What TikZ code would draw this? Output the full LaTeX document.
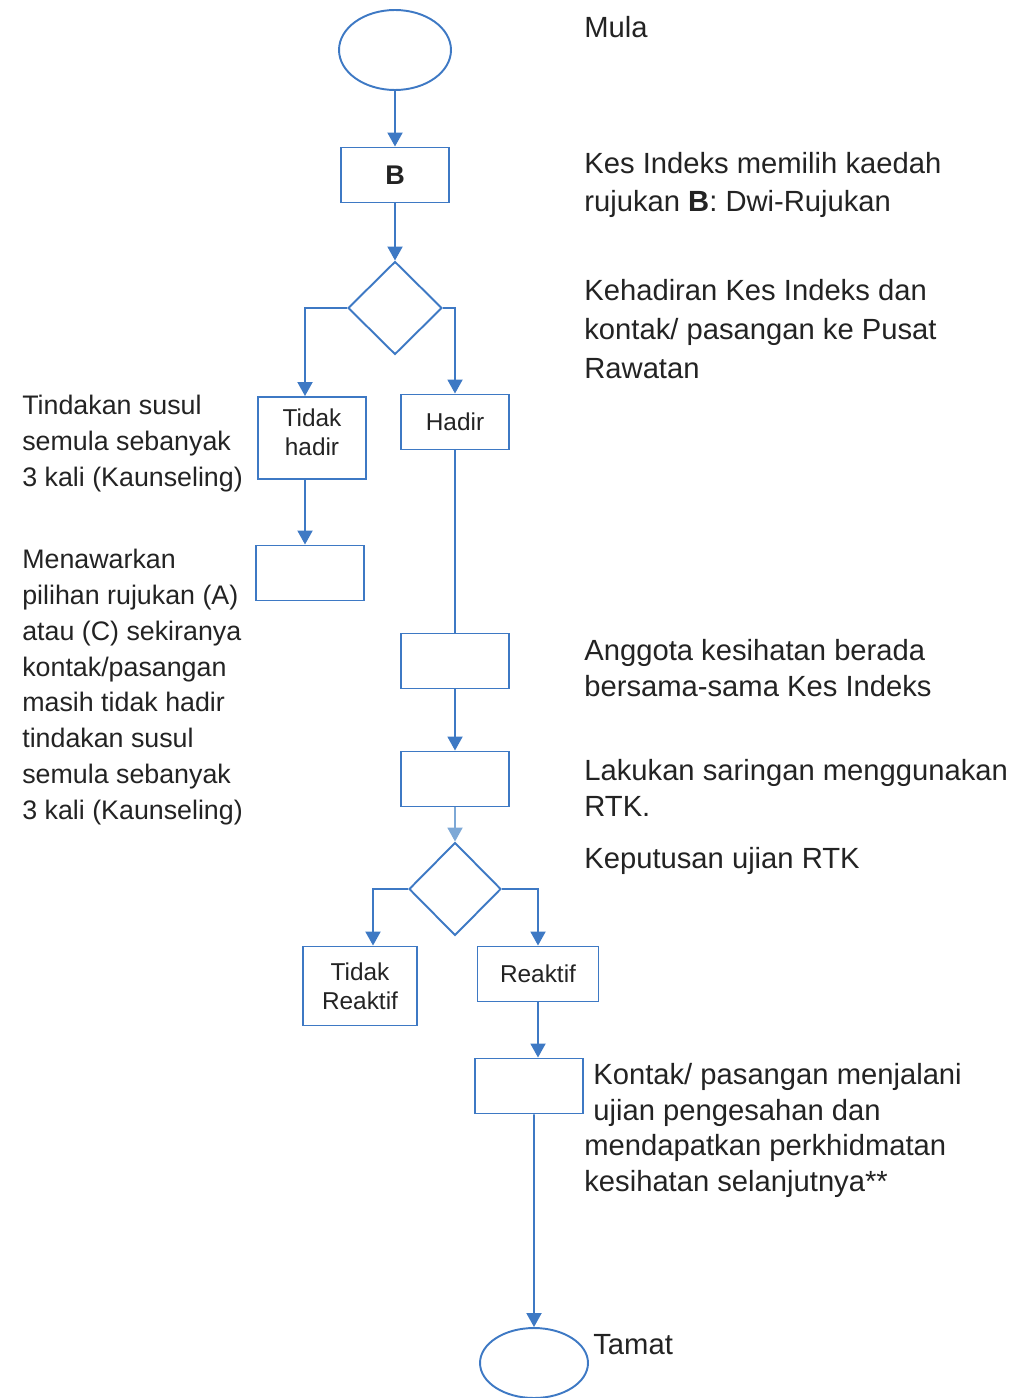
\documentclass[tikz,border=0pt]{standalone}
\usepackage{fontspec}
\setmainfont{Liberation Sans}
\usetikzlibrary{shapes.geometric,arrows.meta}

\definecolor{flowblue}{RGB}{62,121,196}
\definecolor{paleblue}{RGB}{125,168,214}
\definecolor{inktext}{RGB}{35,35,35}

\newcommand{\boxfont}{\fontsize{0.488cm}{0.58cm}\selectfont}
\newcommand{\notefont}{\fontsize{0.584cm}{0.72cm}\selectfont}
\newcommand{\widenotefont}{\fontsize{0.584cm}{0.78cm}\selectfont}
\newcommand{\sidefont}{\fontsize{0.536cm}{0.715cm}\selectfont}

\tikzset{
  flowline/.style={draw=flowblue, line width=1.1pt},
  arr/.style={flowline, -{Triangle[width=0.3cm,length=0.28cm]}},
  palearr/.style={draw=paleblue, line width=1.1pt, -{Triangle[width=0.3cm,length=0.28cm]}},
  stepbox/.style={flowline, rectangle, minimum width=2.16cm, minimum height=1.1cm,
    inner sep=0pt, align=center, font=\boxfont, text=inktext},
  terminal/.style={flowline, ellipse, inner sep=0pt},
  choice/.style={flowline, diamond, inner sep=0pt, minimum width=1.88cm, minimum height=1.86cm},
  note/.style={anchor=base west, inner sep=0pt, align=left, text=inktext, font=\notefont},
  sidenote/.style={note, font=\sidefont}
}

\begin{document}
\begin{tikzpicture}[x=0.02cm, y=-0.02cm]
\useasboundingbox (0,0) rectangle (1023,1398);

% flow shapes
\node[terminal, minimum width=2.24cm, minimum height=1.6cm] (mula) at (395,50) {};
\node[stepbox] (b) at (395,175) {\fontsize{0.54cm}{0.6cm}\selectfont\textbf{B}};
\node[choice] (hadirq) at (395,308) {};
\node[stepbox, minimum height=1.64cm, text depth=0.24cm] (tidakhadir) at (312,438) {Tidak\\hadir};
\node[stepbox] (hadir) at (455,422) {Hadir};
\node[stepbox] (tawar) at (310,573) {};
\node[stepbox] (anggota) at (455,661) {};
\node[stepbox] (saring) at (455,779) {};
\node[choice, minimum width=1.84cm] (rtk) at (455,889) {};
\node[stepbox, minimum width=2.28cm, minimum height=1.58cm] (tidakreaktif) at (360,986) {Tidak\\Reaktif};
\node[stepbox, minimum width=2.42cm] (reaktif) at (538,974) {Reaktif};
\node[stepbox] (sahkan) at (529,1086) {};
\node[terminal, minimum width=2.16cm, minimum height=1.4cm] (tamat) at (534,1363) {};

% notes on the right (placed at the baseline of the last line)
\node[note] (nmula) at (584,38) {Mula};
\node[note, font=\widenotefont] (nb) at (584,212) {Kes Indeks memilih kaedah\\rujukan \textbf{B}: Dwi-Rujukan};
\node[note, font=\widenotefont] (nhadir) at (584,378) {Kehadiran Kes Indeks dan\\kontak/ pasangan ke Pusat\\Rawatan};
\node[note] (nanggota) at (584,696) {Anggota kesihatan berada\\bersama-sama Kes Indeks};
\node[note] (nsaring) at (584,816) {Lakukan saringan menggunakan\\RTK.};
\node[note] (nrtk) at (584,868) {Keputusan ujian RTK};
\node[note, font=\fontsize{0.584cm}{0.71cm}\selectfont] (nsahkan) at (584,1191)
  {\hspace*{0.18cm}Kontak/ pasangan menjalani\\\hspace*{0.18cm}ujian pengesahan dan\\mendapatkan perkhidmatan\\kesihatan selanjutnya**};
\node[note] (ntamat) at (593,1354) {Tamat};

% notes on the left
\node[sidenote] (nsusul) at (22,486) {Tindakan susul\\semula sebanyak\\3 kali (Kaunseling)};
\node[sidenote] (ntawar) at (22,819) {Menawarkan\\pilihan rujukan (A)\\atau (C) sekiranya\\kontak/pasangan\\masih tidak hadir\\tindakan susul\\semula sebanyak\\3 kali (Kaunseling)};

% connectors
\draw[arr] (mula) -- (b);
\draw[arr] (b) -- (hadirq);
\draw[arr] (hadirq.west) -| ([xshift=-0.14cm]tidakhadir.north);
\draw[arr] (hadirq.east) -| (hadir.north);
\draw[arr] ([xshift=-0.14cm]tidakhadir.south) -- ([xshift=-0.1cm]tawar.north);
\draw[flowline] (hadir) -- (anggota);
\draw[arr] (anggota) -- (saring);
\draw[palearr] (saring) -- (rtk);
\draw[arr] (rtk.west) -| ([xshift=0.26cm]tidakreaktif.north);
\draw[arr] (rtk.east) -| (reaktif.north);
\draw[arr] (reaktif.south) -- (reaktif.south |- sahkan.north);
\draw[arr] ([xshift=0.1cm]sahkan.south) -- (tamat.north);

\end{tikzpicture}
\end{document}
